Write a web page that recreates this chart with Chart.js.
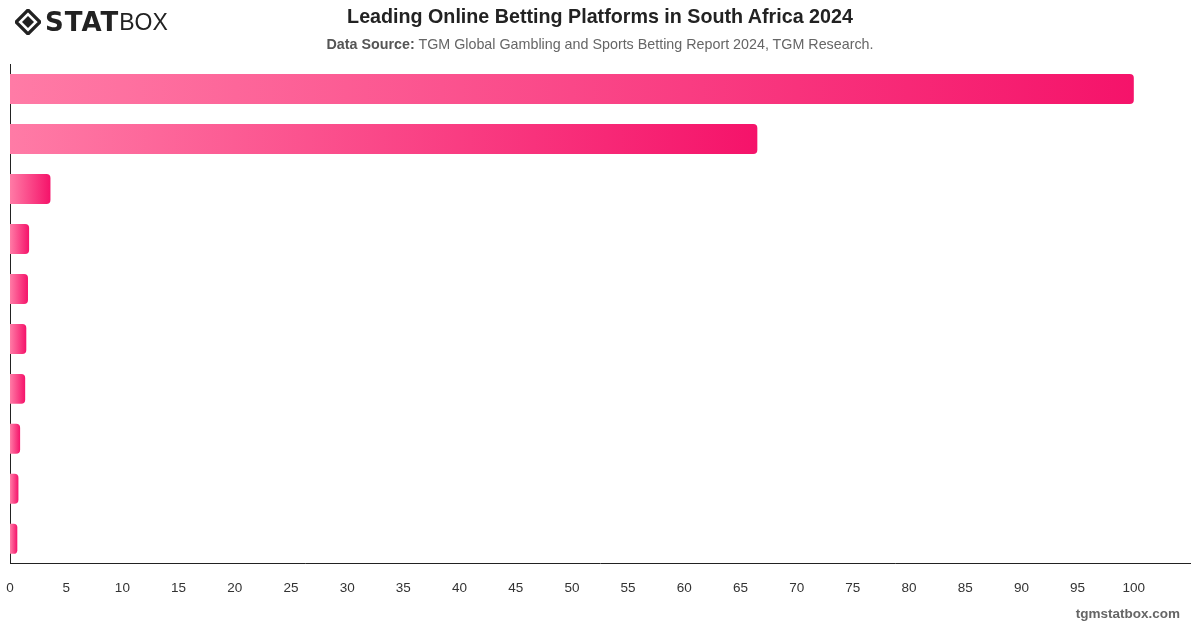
<!DOCTYPE html>
<html>
<head>
<meta charset="utf-8">
<script src="https://cdn.jsdelivr.net/npm/chart.js@4/dist/chart.umd.min.js"></script>
<style>
  html, body { margin: 0; padding: 0; background: #fff; }
  body { width: 1200px; height: 628px; position: relative; overflow: hidden; font-family: "Liberation Sans", Arial, sans-serif; }
  #logo { position: absolute; left: 15px; top: 8px; height: 28px; display: flex; align-items: center; }
  #logo .stat { font-family: "DejaVu Sans", sans-serif; font-weight: 900; font-size: 26px; color: #222; letter-spacing: 1px; margin-left: 4px; }
  #logo .box { font-family: "Liberation Sans", sans-serif; font-weight: 400; font-size: 23px; color: #222; }
  #title { position: absolute; left: 0; width: 1200px; top: 5px; text-align: center; font-size: 19.7px; font-weight: bold; color: #222; }
  #subtitle { position: absolute; left: 0; width: 1200px; top: 36px; text-align: center; font-size: 14.3px; color: #666; }
  #subtitle b { color: #555; }
  #footer { position: absolute; right: 20px; top: 606px; font-size: 13.5px; font-weight: bold; color: #666; }
  #wrap { position: absolute; left: 0; top: 0; width: 1200px; height: 628px; }
</style>
</head>
<body>
<div id="wrap"><canvas id="chart"></canvas></div>
<div id="logo">
  <svg width="26" height="26" viewBox="0 0 26 26">
    <path d="M13 1 L25 13 L13 25 L1 13 Z" fill="none" stroke="#222" stroke-width="3.2"/>
    <path d="M13 7 L19 13 L13 19 L7 13 Z" fill="#222"/>
  </svg>
  <span class="stat">STAT</span><span class="box">BOX</span>
</div>
<div id="title">Leading Online Betting Platforms in South Africa 2024</div>
<div id="subtitle"><b>Data Source:</b> TGM Global Gambling and Sports Betting Report 2024, TGM Research.</div>
<div id="footer">tgmstatbox.com</div>
<script>
// platform names are not printed on the chart, so they are kept generic
const platforms = ["Platform 1", "Platform 2", "Platform 3", "Platform 4", "Platform 5",
                   "Platform 6", "Platform 7", "Platform 8", "Platform 9", "Platform 10"];
const shares = [100, 66.5, 3.6, 1.7, 1.6, 1.45, 1.35, 0.9, 0.75, 0.65];
const axisMax = 105;
const tickStep = 5;

function barGradient(ctx) {
    const chart = ctx.chart;
    const xScale = chart.scales.x;
    if (!chart.chartArea || !xScale || ctx.raw === undefined) return "#f5136b";
    const x0 = xScale.getPixelForValue(0);
    const x1 = xScale.getPixelForValue(ctx.raw);
    const g = chart.ctx.createLinearGradient(x0, 0, Math.max(x1, x0 + 1), 0);
    g.addColorStop(0, "#ff7ba6");
    g.addColorStop(1, "#f5136a");
    return g;
}

new Chart(document.getElementById("chart"), {
    type: "bar",
    data: {
        labels: platforms,
        datasets: [{
            data: shares,
            backgroundColor: barGradient,
            borderRadius: 4,
            barPercentage: 0.6,
            categoryPercentage: 1.0,
        }],
    },
    options: {
        indexAxis: "y",
        responsive: true,
        maintainAspectRatio: false,
        animation: false,
        layout: {
            padding: {left: 10, right: 10, top: 64, bottom: 16},
        },
        plugins: {
            legend: {display: false},
            tooltip: {enabled: false},
        },
        scales: {
            x: {
                min: 0,
                max: axisMax,
                grid: {display: false, drawTicks: false},
                border: {display: true, color: "#222", width: 1},
                ticks: {
                    stepSize: tickStep,
                    padding: 16,
                    color: "#333",
                    font: {family: "Liberation Sans", size: 13.5},
                    callback: (v) => (v === axisMax ? "" : v),
                },
                afterFit: (s) => { s.paddingLeft = 0; s.paddingRight = 0; },
            },
            y: {
                grid: {display: false, drawTicks: false},
                border: {display: true, color: "#222", width: 1},
                ticks: {display: false},
                afterFit: (s) => { s.width = 0; },
            },
        },
    },
});
</script>
</body>
</html>
